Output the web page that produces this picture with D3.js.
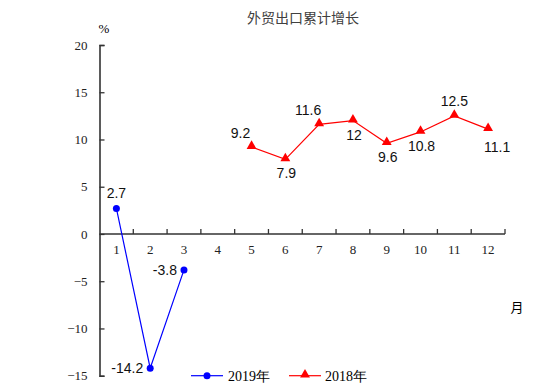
<!DOCTYPE html>
<html>
<head>
<meta charset="utf-8">
<script src="https://cdn.jsdelivr.net/npm/d3@7"></script>
<style>
  body { margin: 0; background: #fff; }
</style>
</head>
<body>
<div id="chart"></div>
<script>
// Data
const months = ["1", "2", "3", "4", "5", "6", "7", "8", "9", "10", "11", "12"];
const months2019 = ["1", "2", "3"];
const values2019 = [2.7, -14.2, -3.8];
const months2018 = ["5", "6", "7", "8", "9", "10", "11", "12"];
const values2018 = [9.2, 7.9, 11.6, 12, 9.6, 10.8, 12.5, 11.1];
const yTicks = [20, 15, 10, 5, 0, -5, -10, -15];

// where each value label sits relative to its point
const labelPos2019 = ["above", "left", "left"];
const labelPos2018 = ["aboveLeft", "below", "aboveLeft", "below", "below", "below", "above", "belowRight"];

const width = 554, height = 392;
const svg = d3.select("#chart").append("svg")
    .attr("width", width)
    .attr("height", height);

const x = d3.scaleBand().domain(months).range([99.5, 505]);
const y = d3.scaleLinear().domain([-15, 20]).range([375.7, 45]);

const serif = "'Liberation Serif', 'Times New Roman', serif";
const sans = "'Liberation Sans', Arial, sans-serif";
const cjk = "'Noto Sans CJK SC', sans-serif";

// Title
svg.append("text")
    .attr("x", 303).attr("y", 23)
    .attr("text-anchor", "middle")
    .style("font-family", cjk)
    .style("font-size", "14px")
    .style("fill", "#404040")
    .text("外贸出口累计增长");

// Y axis
const yAxis = svg.append("g")
    .attr("transform", `translate(${x.range()[0]},0)`)
    .call(d3.axisLeft(y).tickValues(yTicks).tickSize(-5).tickPadding(12).tickFormat(d3.format("d")));
yAxis.select(".domain").attr("stroke", "#333").attr("stroke-width", 1.6);
yAxis.selectAll(".tick line").attr("stroke", "#333").attr("stroke-width", 1.3);
yAxis.selectAll(".tick text")
    .style("font-family", serif).style("font-size", "13px").attr("fill", "#222");

svg.append("text")
    .attr("x", 104).attr("y", 33)
    .attr("text-anchor", "middle")
    .style("font-family", serif)
    .style("font-size", "13px")
    .text("%");

// X axis at zero, ticks between months
const xg = svg.append("g").attr("transform", `translate(0,${y(0)})`);
xg.append("line")
    .attr("x1", x.range()[0]).attr("x2", x.range()[1])
    .attr("stroke", "#333").attr("stroke-width", 1.6);
xg.selectAll(".xtick")
    .data(months)
    .enter().append("line")
    .attr("class", "xtick")
    .attr("x1", d => x(d) + x.bandwidth()).attr("x2", d => x(d) + x.bandwidth())
    .attr("y1", 0).attr("y2", -5)
    .attr("stroke", "#333").attr("stroke-width", 1.3);
xg.selectAll(".xlabel")
    .data(months)
    .enter().append("text")
    .attr("class", "xlabel")
    .attr("x", d => x(d) + x.bandwidth() / 2)
    .attr("y", 20)
    .attr("text-anchor", "middle")
    .style("font-family", serif)
    .style("font-size", "13px")
    .attr("fill", "#222")
    .text(d => d);

svg.append("text")
    .attr("x", 517).attr("y", 312)
    .attr("text-anchor", "middle")
    .style("font-family", cjk)
    .style("font-size", "13px")
    .text("月");

const cx = m => x(m) + x.bandwidth() / 2;
const line = d3.line().x(d => cx(d[0])).y(d => y(d[1]));

const pts2019 = months2019.map((m, i) => [m, values2019[i], labelPos2019[i]]);
const pts2018 = months2018.map((m, i) => [m, values2018[i], labelPos2018[i]]);

// 2018 series
svg.append("path")
    .attr("d", line(pts2018))
    .attr("fill", "none")
    .attr("stroke", "#ff0000")
    .attr("stroke-width", 1.2);
const tri = d3.symbol().type(d3.symbolTriangle).size(42);
svg.selectAll(".tri")
    .data(pts2018)
    .enter().append("path")
    .attr("class", "tri")
    .attr("d", tri)
    .attr("transform", d => `translate(${cx(d[0])},${y(d[1]) - 1})`)
    .attr("fill", "#ff0000");

// 2019 series
svg.append("path")
    .attr("d", line(pts2019))
    .attr("fill", "none")
    .attr("stroke", "#0000ff")
    .attr("stroke-width", 1.2);
svg.selectAll(".dot")
    .data(pts2019)
    .enter().append("circle")
    .attr("class", "dot")
    .attr("cx", d => cx(d[0]))
    .attr("cy", d => y(d[1]))
    .attr("r", 3.5)
    .attr("fill", "#0000ff");

// value labels
const offsets = {
    above: [0, -10, "middle"],
    below: [1, 19, "middle"],
    left: [-7, 5, "end"],
    aboveLeft: [-11, -9, "middle"],
    belowRight: [9, 23, "middle"]
};
svg.selectAll(".vlabel")
    .data(pts2019.concat(pts2018))
    .enter().append("text")
    .attr("class", "vlabel")
    .attr("x", d => cx(d[0]) + offsets[d[2]][0])
    .attr("y", d => y(d[1]) + offsets[d[2]][1])
    .attr("text-anchor", d => offsets[d[2]][2])
    .style("font-family", sans)
    .style("font-size", "14px")
    .attr("fill", "#111")
    .text(d => d[1]);

// Legend
const legY = 375.7;
const leg = svg.append("g");
leg.append("line").attr("x1", 191).attr("x2", 223).attr("y1", legY).attr("y2", legY)
    .attr("stroke", "#0000ff").attr("stroke-width", 1.2);
leg.append("circle").attr("cx", 207).attr("cy", legY).attr("r", 3.5).attr("fill", "#0000ff");
leg.append("text").attr("x", 228).attr("y", legY + 5)
    .style("font-family", serif).style("font-size", "14px").text("2019年");
leg.append("line").attr("x1", 289).attr("x2", 321).attr("y1", legY).attr("y2", legY)
    .attr("stroke", "#ff0000").attr("stroke-width", 1.2);
leg.append("path").attr("d", tri).attr("transform", `translate(305,${legY - 1})`).attr("fill", "#ff0000");
leg.append("text").attr("x", 325).attr("y", legY + 5)
    .style("font-family", serif).style("font-size", "14px").text("2018年");
</script>
</body>
</html>
